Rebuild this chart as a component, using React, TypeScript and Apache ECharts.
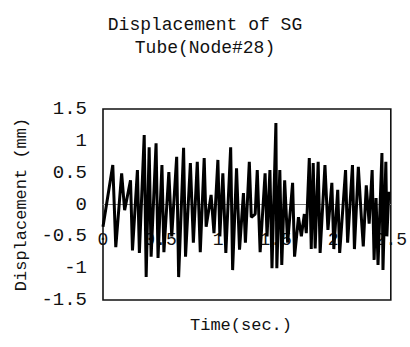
import React, { useEffect, useRef } from "react";
import * as echarts from "echarts";

const titleLines = ["Displacement of SG", "Tube(Node#28)"];
const yAxisName = "Displacement (mm)";
const xAxisName = "Time(sec.)";

// time (sec.)
const times = [
  0, 0.085, 0.111, 0.162, 0.188, 0.239, 0.256, 0.299, 0.316, 0.358, 0.375, 0.401, 0.418,
  0.461, 0.478, 0.512, 0.529, 0.572, 0.597, 0.64, 0.657, 0.7, 0.717, 0.759, 0.785, 0.819,
  0.845, 0.879, 0.896, 0.939, 0.964, 0.998, 1.015, 1.041, 1.067, 1.109, 1.126, 1.16, 1.186,
  1.22, 1.237, 1.271, 1.288, 1.322, 1.34, 1.365, 1.408, 1.425, 1.45, 1.468, 1.502, 1.51,
  1.536, 1.553, 1.578, 1.604, 1.647, 1.664, 1.698, 1.723, 1.749, 1.766, 1.792, 1.809, 1.826,
  1.843, 1.869, 1.886, 1.928, 1.954, 1.988, 2.005, 2.039, 2.056, 2.107, 2.125, 2.167, 2.184,
  2.218, 2.244, 2.261, 2.287, 2.312, 2.338, 2.355, 2.372, 2.389, 2.423, 2.432, 2.457, 2.466,
  2.483,
];

// displacement (mm)
const displacement = [
  -0.35, 0.62, -0.67, 0.49, -0.09, 0.38, -0.72, 0.54, -0.76, 1.09, -1.14, 0.9, -0.82,
  0.96, -0.84, 0.62, -0.75, 0.51, -0.5, 0.75, -1.14, 0.89, -0.82, 0.65, -0.6, 0.67,
  -0.75, 0.73, -0.35, 0.15, -0.45, 0.7, -0.5, 0.49, -0.76, 0.9, -1.03, 0.57, -0.71,
  0.18, -0.6, 0.67, -0.2, -0.15, 0.54, -0.75, 0.49, -0.5, 0.54, -1.0, 1.28, -1.0,
  0.54, -0.95, 0.38, -0.6, 0.34, -0.82, -0.2, -0.5, -0.15, -0.45, 0.73, -0.7, 0.65,
  -0.69, 0.67, -0.76, 0.62, -0.4, 0.34, -0.7, 0.23, -0.76, 0.54, -0.6, 0.62, -0.7,
  0.59, -0.2, -0.66, 0.3, -0.3, 0.54, -0.87, 0.1, -0.95, 0.81, -1.03, 0.67, -0.5,
  0.2,
];

const FONT = "Liberation Mono";

export default function App() {
  const ref = useRef<HTMLDivElement>(null);
  useEffect(() => {
    if (!ref.current) return;
    const chart = echarts.init(ref.current, null, { renderer: "svg" });
    const data = times.map((t, i) => [t, displacement[i]]);
    chart.setOption({
      animation: false,
      backgroundColor: "#ffffff",
      title: {
        text: titleLines.join("\n"),
        left: "center",
        top: 8,
        textStyle: {
          fontFamily: FONT,
          fontSize: 18,
          fontWeight: "normal",
          color: "#111",
          lineHeight: 23,
        },
      },
      grid: {
        left: 103,
        right: 14,
        top: 109,
        bottom: 47,
        show: true,
        borderColor: "#111",
        borderWidth: 1.6,
        backgroundColor: "transparent",
      },
      xAxis: {
        type: "value",
        min: 0,
        max: 2.5,
        interval: 0.5,
        axisLine: { onZero: true, lineStyle: { color: "#777", width: 1 } },
        axisTick: { show: false },
        splitLine: { show: false },
        axisLabel: {
          margin: -69,
          fontFamily: FONT,
          fontSize: 18,
          color: "#111",
          showMinLabel: true,
          showMaxLabel: true,
        },
      },
      yAxis: {
        type: "value",
        min: -1.5,
        max: 1.5,
        interval: 0.5,
        name: yAxisName,
        nameLocation: "middle",
        nameGap: 72,
        nameTextStyle: { fontFamily: FONT, fontSize: 17, color: "#111" },
        axisLine: { show: false },
        axisTick: { show: false },
        splitLine: { show: false },
        axisLabel: {
          margin: 16,
          fontFamily: FONT,
          fontSize: 19,
          color: "#111",
        },
      },
      graphic: [
        {
          type: "text",
          left: 190,
          top: 317,
          style: {
            text: xAxisName,
            font: `17px "${FONT}"`,
            fill: "#111",
          },
        },
      ],
      series: [
        {
          type: "line",
          data,
          showSymbol: false,
          lineStyle: { color: "#000", width: 3 },
          z: 5,
        },
      ],
    });
    return () => chart.dispose();
  }, []);
  return (
    <div
      ref={ref}
      style={{ position: "absolute", left: 0, top: 0, width: 410, height: 347 }}
    />
  );
}
